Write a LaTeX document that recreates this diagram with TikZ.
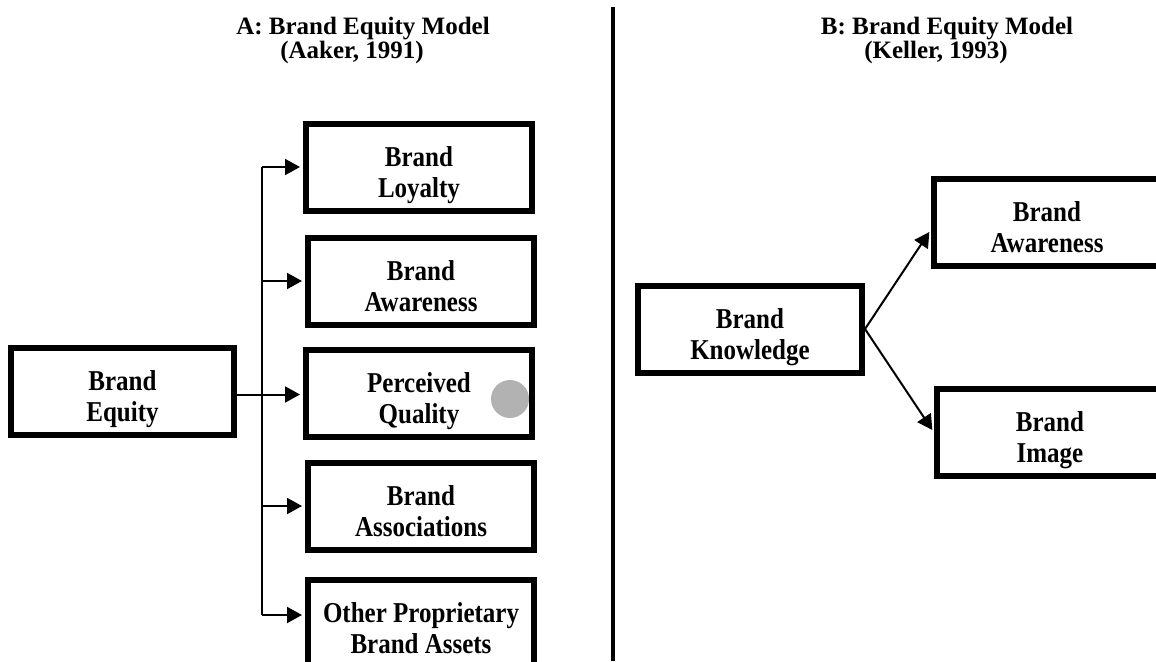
\documentclass[tikz,border=0pt]{standalone}
\usepackage{fontspec}
\setmainfont{Liberation Serif}
\usetikzlibrary{arrows.meta,calc}
\definecolor{dotgray}{RGB}{178,178,178}
\newcommand\tallbox[1]{\scalebox{1}[1.15]{#1}}
\newcommand\twolines[2]{\rule{0pt}{37pt}\tallbox{#1}\\\tallbox{#2}\rule[-8pt]{0pt}{8pt}}
\newcommand\tightlines{\setlength{\lineskiplimit}{-100pt}}
\begin{document}
\begin{tikzpicture}[x=1pt,y=-1pt,
  box/.style={draw, line width=6pt, minimum width=226pt, minimum height=87pt, inner sep=0pt, align=center,
    font=\bfseries\fontsize{25}{31}\selectfont},
  conn/.style={line width=2pt, -{Triangle[length=15pt,width=16pt]}, shorten >=3pt},
  plainline/.style={line width=2pt},
  ttl/.style={align=center, inner sep=0pt, anchor=north, font=\bfseries\fontsize{25}{24}\selectfont\tightlines}]
\useasboundingbox (0,0) rectangle (1156,661);

% titles
\node[ttl] (ta) at (363,17) {A: Brand Equity Model\\(Aaker, 1991)\hspace*{22pt}};
\node[ttl] (tb) at (947,17) {B: Brand Equity Model\\(Keller, 1993)\hspace*{22pt}};

% divider
\draw[line width=4pt] (613,7) -- (613,661);

% model A
\node[box, minimum width=223pt] (eq) at (122.5,391) {\twolines{Brand}{Equity}};
\node[box] (loy) at (419,167) {\twolines{Brand}{Loyalty}};
\node[box] (aw) at (421,281) {\twolines{Brand}{Awareness}};
\node[box] (pq) at (419,393.5) {\twolines{Perceived}{Quality}};
\node[box] (as) at (421,506) {\twolines{Brand}{Associations}};
\node[box] (op) at (421,623) {\twolines{Other Proprietary}{Brand Assets}};
\fill[dotgray] (510,399) circle (19pt);

\coordinate (trunk) at (262,0);
\coordinate (opin) at ([yshift=8pt]op.west);
\coordinate (pqin) at ([yshift=-1pt]pq.west);
\draw[plainline] (trunk |- loy.west) -- (trunk |- opin);
\draw[conn] (trunk |- loy.west) -- (loy.west);
\draw[conn] (trunk |- aw.west) -- (aw.west);
\draw[conn] (eq.east |- pqin) -- (pqin);
\draw[conn] (trunk |- as.west) -- (as.west);
\draw[conn] (trunk |- opin) -- (opin);

% model B
\node[box, minimum width=224pt] (kn) at (750,329) {\twolines{Brand}{Knowledge}};
\node[box] (awr) at (1047,222.5) {\twolines{Brand}{Awareness}};
\node[box] (im) at (1050,432.5) {\twolines{Brand}{Image}};
\draw[conn, shorten <=-3pt] (kn.east) -- ([yshift=-7pt]awr.west);
\draw[conn, shorten <=-3pt] (kn.east) -- (im.west);
\end{tikzpicture}
\end{document}
